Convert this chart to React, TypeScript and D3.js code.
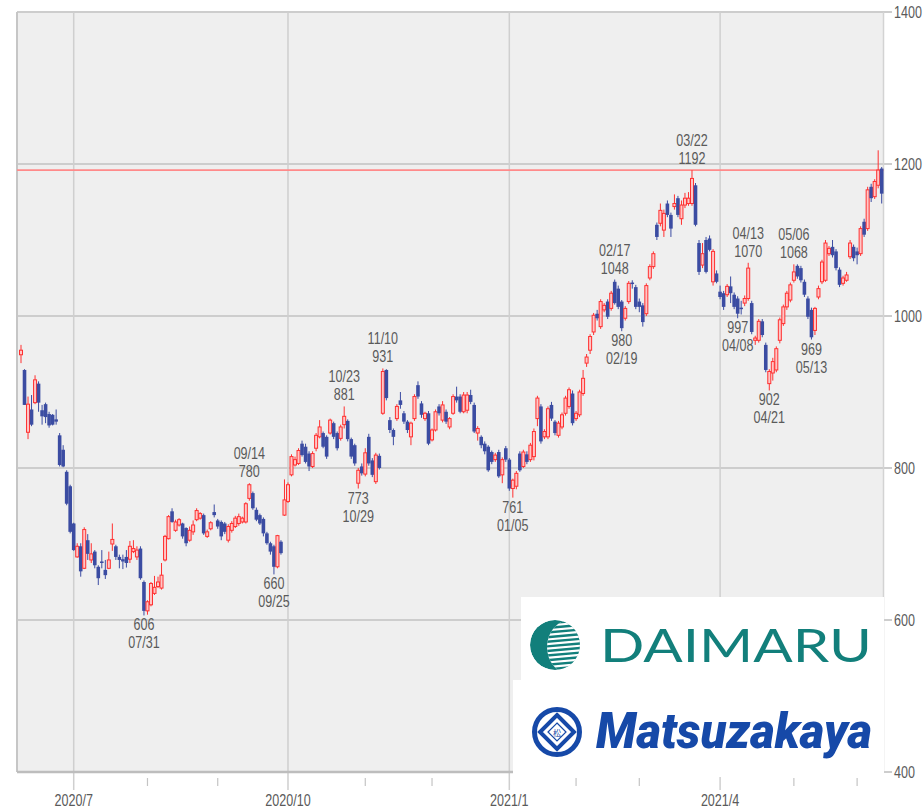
import React from 'react';
import * as d3 from 'd3';

// ---- trading calendar ----
const firstDay = '2020-06-10';
const lastDay = '2021-06-10';
const holidays = ['2020-07-23', '2020-07-24', '2020-08-10', '2020-09-21', '2020-09-22', '2020-11-03', '2020-11-23', '2020-12-31', '2021-01-01', '2021-01-11', '2021-02-11', '2021-02-23', '2021-04-29', '2021-05-03', '2021-05-04', '2021-05-05'];

// ---- daily OHLC (yen) ----
const opens = [
  949, 929, 847, 877, 886, 911, 876, 884, 871, 870, 864, 843, 824, 795, 776, 727, 683, 697, 668, 705, 679, 690, 670, 677, 666, 668, 700, 697, 683, 680, 683, 680, 690, 683, 694, 650, 612, 620, 635, 644, 642, 679, 707, 743, 718, 725, 727, 721, 705,
  716, 732, 734, 738, 710, 720, 742, 731, 729, 727, 705, 718, 723, 727, 729, 729, 760, 767, 745, 738, 733, 714, 701, 697, 670, 703, 738,
  756, 791, 804, 806, 832, 828, 819, 802, 826, 841, 846, 841, 846, 859, 846, 839, 857, 862, 838, 830, 780, 802, 792, 841, 810, 782, 816, 872, 929,
  863, 850, 865, 889, 872, 861, 841, 865, 909, 885, 865, 872, 837, 850, 881, 863, 874, 854, 872, 894, 894, 874, 876, 896, 883, 846, 841, 832, 828, 821, 811, 821, 791, 826, 811, 773, 776, 819, 802, 818, 811,
  815, 865, 881, 841, 841, 883, 861, 843, 854, 872, 881, 898, 865, 870, 898, 938, 955, 979, 1003, 986, 1008, 1019, 1010, 1045, 1036, 1019, 997, 1019, 1044, 1038, 1019, 1014, 1003, 1050, 1065, 1120, 1122, 1113, 1148, 1133, 1144, 1155, 1128, 1146, 1148, 1148, 1172, 1096,
  1067, 1100, 1102, 1045, 1056, 1032, 1030, 1028, 1039, 1028, 1023, 1011, 1017, 1023, 1017, 968, 968, 993, 962, 911, 925, 929, 968, 990, 1012, 1021, 1047, 1066, 1063, 1045, 1023, 1008, 981, 1025, 1045, 1047, 1082, 1091, 1085, 1061, 1043, 1047, 1078, 1091, 1085, 1082, 1124, 1115, 1170, 1157, 1172, 1194,
];
const highs = [
  962, 930, 894, 896, 922, 914, 883, 886, 874, 871, 877, 846, 830, 797, 778, 728, 701, 701, 722, 713, 701, 692, 672, 692, 679, 690, 727, 699, 686, 686, 692, 704, 705, 697, 697, 652, 626, 650, 658, 657, 675, 712, 738, 747, 732, 734, 728, 722, 723,
  731, 747, 742, 740, 719, 730, 752, 733, 731, 729, 726, 730, 737, 740, 736, 755, 780, 769, 748, 740, 735, 716, 703, 699, 712, 705, 785,
  781, 818, 815, 826, 836, 832, 822, 822, 846, 863, 848, 843, 865, 861, 848, 857, 881, 864, 840, 832, 800, 806, 826, 845, 813, 820, 819, 931, 930,
  867, 852, 884, 900, 875, 863, 861, 897, 914, 888, 874, 875, 852, 877, 884, 888, 877, 867, 897, 907, 897, 900, 900, 903, 886, 855, 843, 835, 830, 823, 820, 824, 814, 829, 813, 786, 796, 822, 824, 822, 833,
  852, 895, 884, 851, 881, 887, 863, 862, 873, 895, 906, 902, 875, 903, 929, 950, 976, 1004, 1008, 1022, 1017, 1022, 1033, 1048, 1040, 1021, 1013, 1046, 1047, 1041, 1023, 1017, 1043, 1068, 1085, 1123, 1148, 1140, 1152, 1136, 1160, 1158, 1152, 1162, 1163, 1192, 1175, 1100,
  1096, 1104, 1106, 1088, 1060, 1040, 1033, 1042, 1052, 1031, 1026, 1020, 1027, 1070, 1020, 974, 996, 996, 965, 930, 945, 960, 998, 1015, 1033, 1044, 1068, 1068, 1066, 1048, 1026, 1011, 1012, 1040, 1074, 1100, 1092, 1100, 1088, 1064, 1053, 1058, 1100, 1094, 1090, 1118, 1128, 1170, 1174, 1180, 1218, 1196,
];
const lows = [
  938, 883, 838, 855, 884, 874, 857, 859, 853, 856, 857, 802, 801, 751, 714, 691, 682, 657, 667, 679, 675, 668, 646, 668, 654, 667, 691, 679, 668, 667, 669, 675, 688, 679, 653, 606, 607, 618, 633, 642, 640, 677, 706, 728, 716, 723, 707, 697, 703,
  712, 730, 732, 712, 708, 718, 735, 720, 705, 713, 702, 715, 721, 724, 727, 727, 757, 745, 730, 725, 710, 699, 686, 660, 668, 686, 737,
  754, 789, 802, 804, 815, 806, 796, 800, 822, 839, 826, 812, 844, 838, 823, 836, 852, 835, 812, 803, 773, 790, 789, 803, 788, 779, 798, 870, 889,
  846, 830, 862, 878, 858, 846, 830, 862, 891, 866, 862, 830, 835, 848, 869, 860, 858, 851, 870, 886, 872, 872, 872, 884, 846, 836, 826, 818, 795, 805, 808, 787, 780, 808, 770, 761, 772, 795, 800, 805, 808,
  810, 855, 832, 838, 838, 862, 843, 840, 851, 869, 878, 856, 862, 867, 895, 933, 950, 975, 994, 983, 1005, 996, 1007, 1015, 1009, 980, 994, 1016, 1036, 1009, 1005, 986, 1000, 1047, 1062, 1100, 1118, 1104, 1130, 1104, 1140, 1130, 1120, 1142, 1145, 1145, 1118, 1054,
  1063, 1056, 1085, 1040, 1043, 1022, 1008, 1025, 1017, 1009, 997, 1002, 1013, 1020, 976, 962, 965, 972, 926, 902, 915, 926, 964, 987, 1008, 1018, 1044, 1049, 1044, 1025, 996, 969, 975, 1022, 1042, 1045, 1079, 1077, 1060, 1038, 1040, 1045, 1075, 1072, 1068, 1079, 1104, 1112, 1150, 1154, 1168, 1148,
];
const closes = [
  955, 883, 884, 857, 916, 886, 868, 867, 856, 857, 861, 804, 802, 753, 716, 692, 697, 664, 719, 687, 687, 672, 655, 675, 659, 679, 706, 683, 679, 677, 675, 697, 694, 692, 655, 612, 624, 648, 643, 650, 659, 710, 736, 729, 729, 732, 710, 701, 718,
  725, 744, 740, 714, 716, 728, 738, 723, 710, 716, 723, 727, 734, 736, 734, 753, 778, 747, 732, 727, 714, 701, 690, 670, 711, 688, 758,
  778, 815, 811, 823, 817, 808, 802, 819, 843, 854, 828, 815, 863, 841, 826, 854, 868, 838, 815, 806, 797, 793, 820, 806, 791, 817, 800, 927, 892,
  850, 841, 881, 883, 861, 850, 859, 894, 894, 870, 872, 832, 850, 874, 872, 883, 861, 865, 894, 889, 874, 896, 896, 887, 848, 852, 830, 822, 797, 808, 817, 789, 811, 811, 773, 784, 793, 797, 821, 808, 830,
  848, 892, 835, 848, 878, 865, 846, 859, 870, 892, 903, 859, 872, 900, 918, 946, 973, 1001, 997, 1019, 1014, 999, 1030, 1017, 1012, 984, 1010, 1043, 1042, 1012, 1012, 992, 1040, 1065, 1082, 1104, 1139, 1135, 1133, 1115, 1148, 1133, 1146, 1155, 1155, 1181, 1120, 1058,
  1082, 1058, 1087, 1085, 1045, 1025, 1012, 1039, 1030, 1012, 1003, 1009, 1023, 1063, 979, 971, 993, 975, 929, 927, 940, 957, 995, 1012, 1030, 1041, 1058, 1052, 1047, 1028, 999, 972, 1010, 1036, 1071, 1096, 1089, 1080, 1063, 1041, 1050, 1054, 1096, 1076, 1080, 1115, 1107, 1166, 1155, 1177, 1192, 1161,
];

// ---- axes / annotations ----
const yTicks = [400, 600, 800, 1000, 1200, 1400];
const referenceLevel = 1192;
const markDates = ['2020-07-31', '2020-09-14', '2020-09-25', '2020-10-23', '2020-10-29', '2020-11-10', '2021-01-05', '2021-02-17', '2021-02-19', '2021-03-22', '2021-04-08', '2021-04-13', '2021-04-21', '2021-05-06', '2021-05-13'];
const markKinds = ['low', 'high', 'low', 'high', 'low', 'high', 'low', 'high', 'low', 'high', 'low', 'high', 'low', 'high', 'low'];

const W = 924, H = 809;
const PL = 17, PR = 883.5, PT = 12, PB = 772;
const RED = '#ff3030', RED_FILL = '#ffc6c6', BLUE = '#3b4ca2';
const TXT = '#5a5a5a';

const parse = d3.timeParse('%Y-%m-%d');
const fmt = d3.timeFormat('%Y-%m-%d');

function tradingDays(): string[] {
  const hol = new Set(holidays);
  const s = parse(firstDay) as Date, e = parse(lastDay) as Date;
  return d3.timeDay.range(s, d3.timeDay.offset(e, 1))
    .filter((d) => d.getDay() !== 0 && d.getDay() !== 6 && !hol.has(fmt(d)))
    .map((d) => fmt(d));
}

// condensed label text (horizontally squeezed)
const NT = ({ x, y, s, anchor = 'middle', size = 17, fill = TXT }: any) => (
  <text transform={`translate(${x},${y}) scale(0.74,1)`} fontSize={size} fill={fill} textAnchor={anchor}
    fontFamily="'Liberation Sans', Arial, sans-serif">{s}</text>
);

export default function App() {
  const days = tradingDays().slice(0, opens.length);
  const x = d3.scalePoint<string>().domain(days).range([21, 881.7]);
  const y = d3.scaleLinear().domain([400, 1400]).range([PB, PT]);

  const monthStarts: { d: string; m: number; yr: number }[] = [];
  days.forEach((d, i) => {
    const dt = parse(d) as Date;
    if (i > 0 && (parse(days[i - 1]) as Date).getMonth() !== dt.getMonth()) {
      monthStarts.push({ d, m: dt.getMonth(), yr: dt.getFullYear() });
    }
  });
  const quarters = monthStarts.filter((m) => m.m % 3 === 0);
  const minors = monthStarts.filter((m) => m.m % 3 !== 0);

  const marks = markDates.map((md, k) => {
    const i = days.indexOf(md);
    const kind = markKinds[k];
    const v = kind === 'high' ? highs[i] : lows[i];
    return { i, kind, v, label: md.slice(5).replace('-', '/') };
  });

  const sx = (i: number) => x(days[i]) as number;

  return (
    <svg width={W} height={H} style={{ position: 'absolute', left: 0, top: 0, background: '#fff' }}>
      <rect x={0} y={0} width={W} height={H} fill="#fff" />
      <rect x={PL} y={PT} width={PR - PL} height={PB - PT} fill="#efefef" />
      {yTicks.map((t) => (
        <line key={'h' + t} x1={PL} x2={892} y1={y(t)} y2={y(t)} stroke="#cdcdcd" strokeWidth={2} />
      ))}
      {quarters.map((q) => (
        <line key={'q' + q.d} x1={x(q.d)} x2={x(q.d)} y1={PT} y2={790} stroke="#cfcfcf" strokeWidth={1.5} />
      ))}
      {minors.map((q) => (
        <line key={'m' + q.d} x1={x(q.d)} x2={x(q.d)} y1={778} y2={786} stroke="#c4c4c4" strokeWidth={1.2} />
      ))}
      <line x1={PL} x2={PL} y1={PT} y2={PB} stroke="#c6c6c6" strokeWidth={2} />
      <line x1={PR} x2={PR} y1={PT} y2={PB} stroke="#d3d3d3" strokeWidth={1.5} />
      <line x1={PL} x2={PR} y1={PB} y2={PB} stroke="#bdbdbd" strokeWidth={2.5} />

      <line x1={PL} x2={PR} y1={y(referenceLevel)} y2={y(referenceLevel)} stroke="#ff8a8a" strokeWidth={1.6} />

      {days.map((d, i) => {
        const cx = sx(i);
        const o = opens[i], c = closes[i];
        const up = c >= o;
        const top = y(Math.max(o, c)), bot = y(Math.min(o, c));
        const col = up ? RED : BLUE;
        return (
          <g key={d}>
            <line x1={cx} x2={cx} y1={y(highs[i])} y2={y(lows[i])} stroke={col} strokeWidth={1} />
            {up ? (
              <rect x={cx - 1.5} y={top} width={3} height={Math.max(bot - top, 1)} fill={RED_FILL} stroke={RED} strokeWidth={1} />
            ) : (
              <rect x={cx - 1.8} y={top} width={3.6} height={Math.max(bot - top, 1.2)} fill={BLUE} />
            )}
          </g>
        );
      })}

      {marks.map((m) => {
        const cx = sx(m.i);
        const py = y(m.v);
        return m.kind === 'high' ? (
          <g key={'a' + m.i}>
            <NT x={cx} y={py - 24} s={m.label} />
            <NT x={cx} y={py - 6} s={String(m.v)} />
          </g>
        ) : (
          <g key={'a' + m.i}>
            <NT x={cx} y={py + 15} s={String(m.v)} />
            <NT x={cx} y={py + 33} s={m.label} />
          </g>
        );
      })}

      {yTicks.map((t) => (
        <NT key={'yl' + t} x={894} y={y(t) + 6} s={String(t)} anchor="start" />
      ))}
      {quarters.map((q) => (
        <NT key={'xl' + q.d} x={x(q.d)} y={806} s={`${q.yr}/${q.m + 1}`} />
      ))}

      {/* logo panel */}
      <rect x={521} y={597} width={363} height={84} fill="#fff" />
      <rect x={513} y={680} width={371} height={97} fill="#fff" />
      <defs>
        <clipPath id="dmc"><circle cx={555} cy={645} r={25} /></clipPath>
        <clipPath id="dmr"><ellipse cx={570} cy={647} rx={23} ry={27} /></clipPath>
      </defs>
      <g clipPath="url(#dmc)">
        <circle cx={555} cy={645} r={25} fill="#127f7b" />
        <ellipse cx={570} cy={647} rx={23} ry={27} fill="#fff" />
        <g clipPath="url(#dmr)">
          {d3.range(0, 12).map((k) => (
            <line key={'st' + k} x1={540} x2={585} y1={624 + k * 4.6} y2={620 + k * 4.6} stroke="#127f7b" strokeWidth={2.4} />
          ))}
        </g>
      </g>
      <text x={600} y={662} fontSize={46} fill="#127f7b" fontFamily="Lato, 'Open Sans', sans-serif" fontWeight={400}
        textLength={272} lengthAdjust="spacingAndGlyphs">DAIMARU</text>

      <circle cx={557} cy={732} r={22.5} fill="none" stroke="#1649a8" strokeWidth={5} />
      <polygon points="557,715 574,732 557,749 540,732" fill="none" stroke="#1649a8" strokeWidth={4} />
      <polygon points="557,723 566,732 557,741 548,732" fill="none" stroke="#1649a8" strokeWidth={1.2} />
      <text x={557} y={735.5} fontSize={8} fill="#1649a8" textAnchor="middle" fontFamily="'Noto Sans CJK JP', sans-serif">松</text>
      <text x={596} y={748} fontSize={50} fill="#1649a8" fontFamily="Roboto, 'Liberation Sans', sans-serif" fontWeight={900} fontStyle="italic"
        textLength={276} lengthAdjust="spacingAndGlyphs">Matsuzakaya</text>
    </svg>
  );
}
